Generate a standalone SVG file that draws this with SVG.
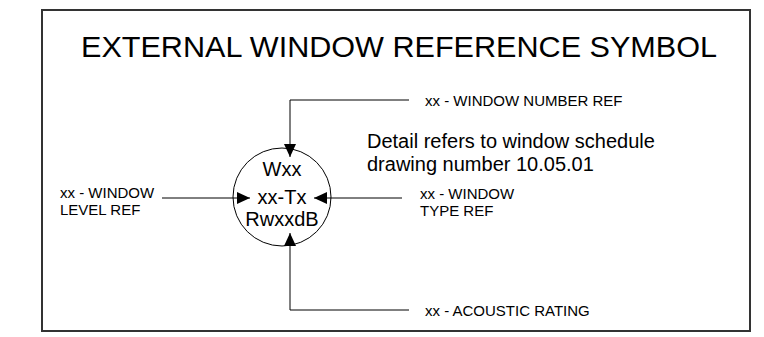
<svg xmlns="http://www.w3.org/2000/svg" width="764" height="337" viewBox="0 0 764 337">
  <style>
    .t { font-family: "Liberation Sans", Arial, sans-serif; fill: #000; }
    .lbl { font-size: 15px; }
    .sym { font-size: 20px; text-anchor: middle; }
    .con { fill: none; stroke: #000; stroke-width: 1; }
  </style>
  <defs>
    <marker id="arr" viewBox="0 0 13 12" refX="13" refY="6" markerWidth="13" markerHeight="12" markerUnits="userSpaceOnUse" orient="auto">
      <path d="M0,0 L13,6 L0,12 Z" fill="#000"/>
    </marker>
  </defs>
  <rect x="0" y="0" width="764" height="337" fill="#fff"/>
  <rect id="frame" x="42" y="10" width="708" height="321" fill="none" stroke="#333" stroke-width="2"/>
  <text id="title" class="t" x="81" y="57" font-size="29" textLength="636" lengthAdjust="spacingAndGlyphs">EXTERNAL WINDOW REFERENCE SYMBOL</text>

  <g id="symbol">
    <circle cx="282" cy="197" r="49" fill="none" stroke="#000" stroke-width="1"/>
    <text class="t sym" x="282" y="176">Wxx</text>
    <text class="t sym" x="282" y="203.5">xx-Tx</text>
    <text class="t sym" x="282" y="226">RwxxdB</text>
  </g>

  <g id="connectors">
    <polyline class="con" points="409,100 290,100 290,157" marker-end="url(#arr)"/>
    <polyline class="con" points="409,310 290,310 290,233" marker-end="url(#arr)"/>
    <line class="con" x1="162" y1="198" x2="250" y2="198" marker-end="url(#arr)"/>
    <line class="con" x1="402" y1="198" x2="314" y2="198" marker-end="url(#arr)"/>
  </g>

  <g id="number-ref">
    <text class="t lbl" x="425" y="106">xx - WINDOW NUMBER REF</text>
  </g>
  <g id="level-ref">
    <text class="t lbl" x="60" y="198">xx - WINDOW</text>
    <text class="t lbl" x="60" y="215">LEVEL REF</text>
  </g>
  <g id="type-ref">
    <text class="t lbl" x="420" y="199">xx - WINDOW</text>
    <text class="t lbl" x="420" y="216">TYPE REF</text>
  </g>
  <g id="acoustic">
    <text class="t lbl" x="425" y="316">xx - ACOUSTIC RATING</text>
  </g>
  <g id="note">
    <text class="t" font-size="20" x="367" y="148">Detail refers to window schedule</text>
    <text class="t" font-size="20" x="367" y="171">drawing number 10.05.01</text>
  </g>
</svg>
